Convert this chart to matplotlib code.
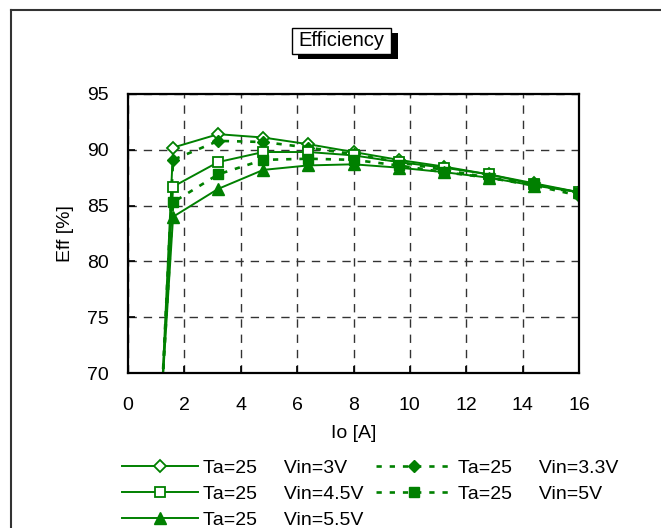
import numpy as np
import matplotlib
matplotlib.use("Agg")
import matplotlib.pyplot as plt
from matplotlib.lines import Line2D
from matplotlib.patches import Rectangle

plt.rcParams['font.family'] = ['Liberation Sans', 'DejaVu Sans']

io = [1.2, 1.6, 3.2, 4.8, 6.4, 8.0, 9.6, 11.2, 12.8, 14.4, 16.0]
eff_3v = [68.0, 90.2, 91.4, 91.1, 90.5, 89.8, 89.1, 88.5, 87.8, 87.0, 86.2]
eff_3v3 = [68.0, 89.1, 90.8, 90.7, 90.2, 89.6, 88.9, 88.2, 87.5, 86.8, 85.9]
eff_4v5 = [68.0, 86.7, 88.9, 89.8, 89.8, 89.5, 88.9, 88.4, 87.8, 86.9, 86.2]
eff_5v = [68.0, 85.3, 87.8, 89.1, 89.2, 89.1, 88.6, 88.0, 87.5, 86.9, 86.1]
eff_5v5 = [68.0, 84.0, 86.5, 88.2, 88.6, 88.7, 88.4, 88.0, 87.5, 86.8, 86.2]

labels = ["Ta=25     Vin=3V", "Ta=25     Vin=3.3V", "Ta=25     Vin=4.5V",
          "Ta=25     Vin=5V", "Ta=25     Vin=5.5V"]

green = "#008000"
dots = (0, (2, 3))
W, H = 661, 528

fig = plt.figure(figsize=(6.61, 5.28), dpi=100)
ax = fig.add_axes([128/W, 1-373/H, 451/W, 279/H])

l1, = ax.plot(io, eff_3v, color=green, lw=1.4, marker="D", ms=6.5, mfc="white", mec=green, mew=1.3, label=labels[0])
l2, = ax.plot(io, eff_3v3, color=green, lw=1.9, ls=dots, marker="D", ms=6.5, mfc=green, mec=green, label=labels[1])
l3, = ax.plot(io, eff_4v5, color=green, lw=1.4, marker="s", ms=7, mfc="white", mec=green, mew=1.3, label=labels[2])
l4, = ax.plot(io, eff_5v, color=green, lw=1.9, ls=dots, marker="s", ms=7, mfc=green, mec=green, label=labels[3])
l5, = ax.plot(io, eff_5v5, color=green, lw=1.4, marker="^", ms=8.5, mfc=green, mec=green, label=labels[4])

ax.set_xlim(0, 16)
ax.set_ylim(70, 95)
ax.set_xticks(np.arange(0, 17, 2))
ax.set_yticks(np.arange(70, 96, 5))
ax.grid(True, color="#333333", ls=(0, (6, 5)), lw=1)
ax.tick_params(direction="in", length=5, labelsize=14, width=1.2)
ax.tick_params(axis="x", pad=17)
ax.tick_params(axis="y", pad=14)
for s in ax.spines.values():
    s.set_linewidth(1.6)

ax.set_xlabel("Io [A]", fontsize=14, labelpad=8)
ax.set_ylabel("Eff [%]", fontsize=14, labelpad=9)

# title box with shadow
fig.add_artist(Rectangle((298/W, 1-59/H), 100/W, 26/H, transform=fig.transFigure, fc="black", ec="none"))
fig.add_artist(Rectangle((292/W, 1-54/H), 99/W, 26/H, transform=fig.transFigure, fc="white", ec="black", lw=1))
fig.text(341/W, 1-41/H, "Efficiency", fontsize=14.5, ha="center", va="center")

fig.legend(handles=[l1, l3, l5, l2, l4], loc="upper left", bbox_to_anchor=(122/W, 1-459/H),
           ncol=2, frameon=False, fontsize=14, handlelength=3.9, handletextpad=0.28,
           columnspacing=0.65, labelspacing=0.44, borderaxespad=0, borderpad=0)

fig.add_artist(Line2D([11/W, 1], [1-10/H, 1-10/H], color="#333333", lw=1.5))
fig.add_artist(Line2D([11/W, 11/W], [0, 1-10/H], color="#333333", lw=1.5))

fig.savefig("out.png", dpi=100)
